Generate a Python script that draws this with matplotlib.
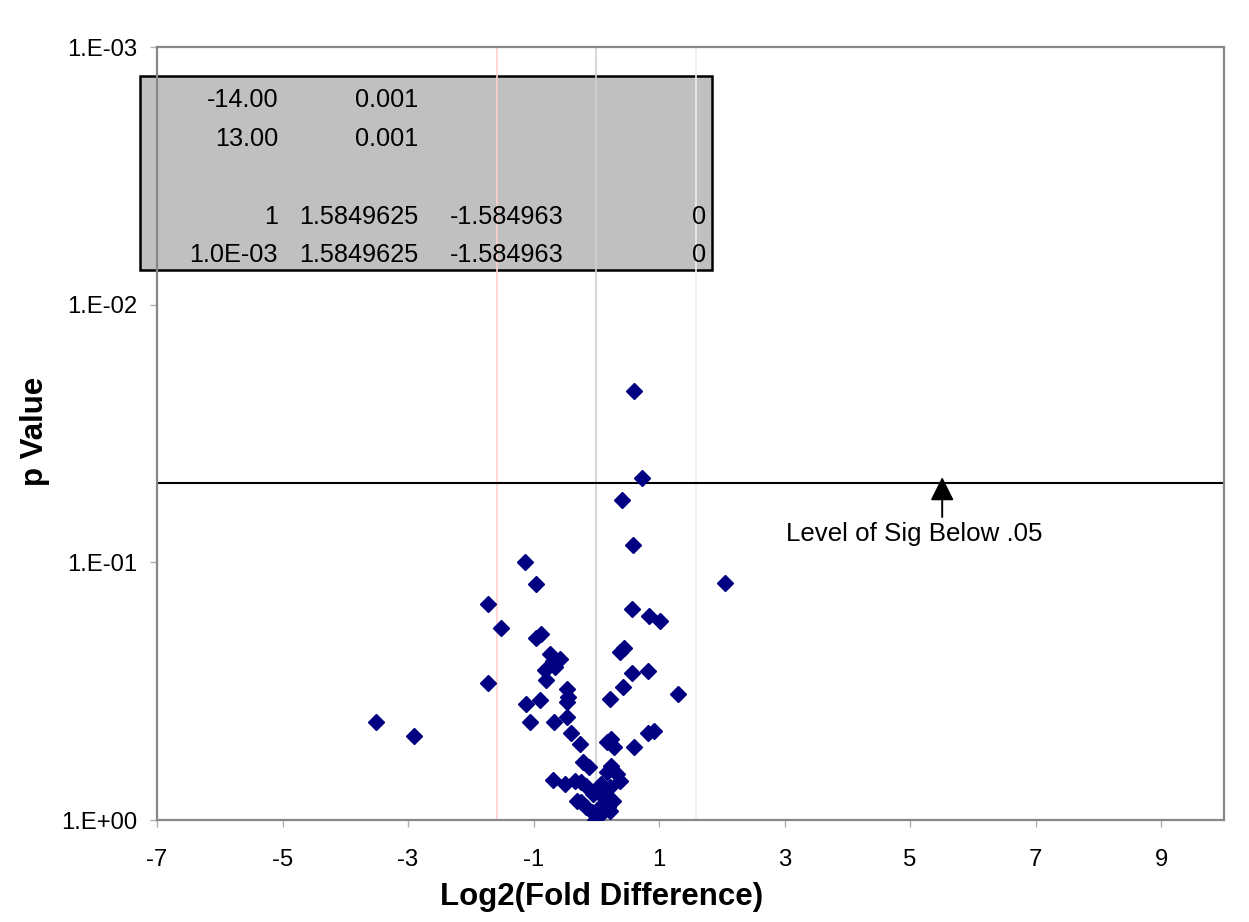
import matplotlib
matplotlib.use("Agg")
import matplotlib.pyplot as plt
from matplotlib.patches import Rectangle
from matplotlib.ticker import NullLocator

plt.rcParams['font.family'] = ['Liberation Sans', 'DejaVu Sans']
plt.rcParams['axes.unicode_minus'] = False

# ---- data ----
log2_fold = [
    0.597, 0.729, 0.410, 0.582, -1.129, -0.965, 2.047, -1.730, 0.570, 0.836,
    1.016, -1.523, -0.954, -0.874, 0.442, 0.374, -0.742, -0.582, -0.694, -0.662,
    -0.822, -0.806, 0.570, 0.815, -1.730, 0.417, -0.466, -0.455, -0.460, 0.214,
    1.303, -1.124, -0.890, -3.504, -2.909, -1.061, -0.678, -0.466, -0.407, -0.264,
    0.162, 0.241, 0.278, 0.602, 0.825, 0.920, -0.211, -0.116, -0.689, -0.503,
    -0.343, -0.237, -0.157, -0.316, -0.237, -0.157, -0.077, -0.025, -0.052, 0.055,
    0.002, 0.108, 0.241, 0.162, 0.321, 0.374, 0.082, 0.214, 0.028, 0.135,
    0.267, 0.187, 0.214,
]
p_value = [
    0.0216, 0.0470, 0.0574, 0.0853, 0.0994, 0.1218, 0.1204, 0.1456, 0.1514, 0.1622,
    0.1691, 0.1805, 0.1962, 0.1905, 0.2145, 0.2232, 0.2278, 0.2367, 0.2425, 0.2552,
    0.2629, 0.2857, 0.2693, 0.2645, 0.2927, 0.3034, 0.3096, 0.3339, 0.3491, 0.3387,
    0.3238, 0.3540, 0.3416, 0.4174, 0.4703, 0.4174, 0.4174, 0.3993, 0.4598, 0.5066,
    0.4994, 0.4844, 0.5190, 0.5190, 0.4606, 0.4497, 0.5972, 0.6207, 0.6991, 0.7246,
    0.7035, 0.7143, 0.7356, 0.8414, 0.8544, 0.8935, 0.9343, 1.0000, 0.7925, 0.8935,
    0.9477, 0.9343, 0.6151, 0.6531, 0.6625, 0.7035, 0.7246, 0.7469, 0.7811, 0.8044,
    0.8414, 0.8935, 0.9203,
]

sig_level = 0.049
fold_cutoffs = [-1.584963, 0, 1.5849625]
cutoff_colors = ['#ffd0d0', '#d0d0d0', '#e6f2e6']

x_ticks = [-7, -5, -3, -1, 1, 3, 5, 7, 9]
y_ticks = [1e-3, 1e-2, 1e-1, 1]
y_labels = ["1.E-03", "1.E-02", "1.E-01", "1.E+00"]

table_rows = [
    ["-14.00", "0.001", "", ""],
    ["13.00", "0.001", "", ""],
    ["", "", "", ""],
    ["1", "1.5849625", "-1.584963", "0"],
    ["1.0E-03", "1.5849625", "-1.584963", "0"],
]

# ---- figure ----
W, H = 1249, 922
fig = plt.figure(figsize=(W / 100, H / 100), dpi=100)
ax = fig.add_axes([157 / W, 1 - 820 / H, (1224 - 157) / W, (820 - 47) / H])
ax.set_facecolor('none')

# grey data-table box behind the plot area
box = Rectangle((139.5 / W, 1 - 270 / H), (712 - 139.5) / W, (270 - 76) / H,
                transform=fig.transFigure, facecolor='#c0c0c0',
                edgecolor='black', lw=1.8, zorder=-1)
fig.add_artist(box)
col_right = [278, 418.5, 564, 706]
row_y = [100, 139, 178, 216.5, 255]
for r, row in enumerate(table_rows):
    for c, val in enumerate(row):
        if val:
            fig.text(col_right[c] / W, 1 - row_y[r] / H, val, ha='right',
                     va='center', fontsize=18.2)

for xc, col in zip(fold_cutoffs, cutoff_colors):
    ax.axvline(xc, color=col, lw=1.2, zorder=1)

ax.axhline(sig_level, color='black', lw=1.5, zorder=2)

ax.plot(log2_fold, p_value, 'D', color='#000080', ms=8.6, mec='#000080',
        ls='none', zorder=3)

ax.annotate('', xy=(5.51, 0.0467), xytext=(5.51, 0.0667),
            arrowprops=dict(arrowstyle='-|>,head_length=0.4,head_width=0.2',
                            color='black', lw=1.4, mutation_scale=36,
                            shrinkA=0, shrinkB=0), zorder=4)
ax.text(5.06, 0.0778, "Level of Sig Below .05", ha='center', va='center',
        fontsize=18.6)

ax.set_yscale('log')
ax.set_ylim(1, 1e-3)
ax.set_xlim(-7, 10)
ax.set_yticks(y_ticks)
ax.set_yticklabels(y_labels)
ax.yaxis.set_minor_locator(NullLocator())
ax.set_xticks(x_ticks)
ax.set_xticklabels([str(t) for t in x_ticks])

for s in ax.spines.values():
    s.set_color('#888888')
    s.set_linewidth(1.6)

ax.tick_params(direction='out', length=5, width=1, color='#b0b0b0',
               labelsize=17.2, pad=9)
ax.tick_params(axis='x', pad=16)

ax.set_xlabel("Log2(Fold Difference)", fontsize=22.5, fontweight='bold')
ax.set_ylabel("p Value", fontsize=22.5, fontweight='bold')
ax.xaxis.set_label_coords(0.4166, -0.0996)
ax.xaxis.label.set_va('center')
ax.yaxis.set_label_coords(-0.1143, 0.503)
ax.yaxis.label.set_va('center')

fig.savefig("out.png", dpi=100)
